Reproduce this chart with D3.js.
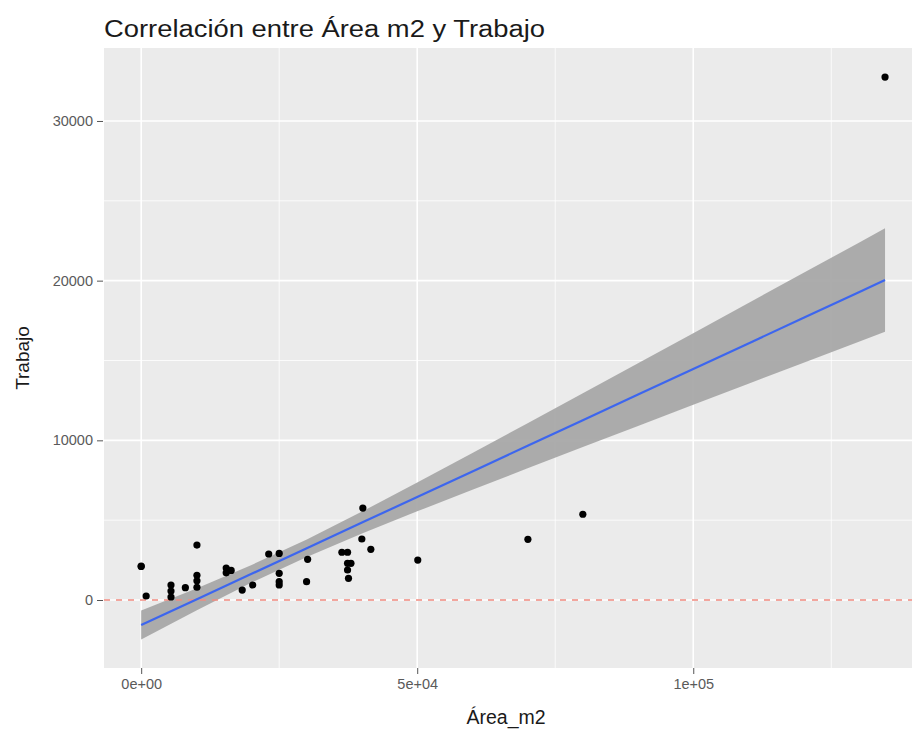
<!DOCTYPE html>
<html>
<head>
<meta charset="utf-8">
<script src="https://cdn.jsdelivr.net/npm/d3@7"></script>
<style>
  html, body { margin: 0; padding: 0; background: #ffffff; }
  svg { display: block; font-family: "Liberation Sans", Arial, sans-serif; }
</style>
</head>
<body>
<svg id="chart" width="912" height="730"></svg>
<script>
// Observations: surface (m2) and work
const areaM2 = [0, 0, 900, 5400, 5400, 5400, 8000, 10100, 10100, 10100, 10100,
  15400, 15400, 16300, 18300, 20200, 23100, 25000, 25000, 25000, 25000,
  30150, 29960, 36350, 37380, 37380, 38000, 37380, 37550, 39970, 41600,
  40150, 50100, 70050, 80000, 134740];
const trabajo = [2100, 2130, 250, 940, 565, 190, 770, 3440, 1550, 1200, 800,
  2000, 1700, 1850, 625, 940, 2880, 2920, 1670, 1150, 940,
  2550, 1150, 2990, 2990, 2300, 2300, 1880, 1360, 3820, 3175,
  5760, 2500, 3800, 5370, 32750];

// Linear fit with its 95% confidence band
const fitX     = [0, 10000, 20000, 30000, 40000, 50000, 60000, 70000, 80000, 90000, 100000, 110000, 120000, 130000, 134740];
const fitY     = [-1565, 38, 1642, 3245, 4848, 6452, 8055, 9658, 11261, 12865, 14468, 16071, 17675, 19278, 20038];
const fitLower = [-2466, -650, 1090, 2693, 4160, 5551, 6906, 8245, 9575, 10901, 12223, 13542, 14862, 16178, 16802];
const fitUpper = [-664, 726, 2194, 3797, 5536, 7353, 9204, 11071, 12947, 14829, 16713, 18600, 20488, 22378, 23274];

// Axis ticks
const xTicks = [0, 50000, 100000];
const xTickLabels = ["0e+00", "5e+04", "1e+05"];
const xMinor = [25000, 75000, 125000];
const yTicks = [0, 10000, 20000, 30000];
const yMinor = [5000, 15000, 25000];

const svg = d3.select("#chart");
const panel = { left: 104, top: 48, right: 922, bottom: 668 };

const x = d3.scaleLinear().domain([-6735, 141435]).range([panel.left, panel.right]);
const y = d3.scaleLinear().domain([-4258, 34570]).range([panel.bottom, panel.top]);

// Panel background
svg.append("rect")
  .attr("x", panel.left).attr("y", panel.top)
  .attr("width", panel.right - panel.left).attr("height", panel.bottom - panel.top)
  .attr("fill", "#ebebeb");

const grid = svg.append("g");
// Minor grid
yMinor.forEach(v => grid.append("line")
  .attr("x1", panel.left).attr("x2", panel.right)
  .attr("y1", y(v)).attr("y2", y(v))
  .attr("stroke", "#ffffff").attr("stroke-width", 0.8));
xMinor.forEach(v => grid.append("line")
  .attr("y1", panel.top).attr("y2", panel.bottom)
  .attr("x1", x(v)).attr("x2", x(v))
  .attr("stroke", "#ffffff").attr("stroke-width", 0.8));
// Major grid
yTicks.forEach(v => grid.append("line")
  .attr("x1", panel.left).attr("x2", panel.right)
  .attr("y1", y(v)).attr("y2", y(v))
  .attr("stroke", "#ffffff").attr("stroke-width", 1.6));
xTicks.forEach(v => grid.append("line")
  .attr("y1", panel.top).attr("y2", panel.bottom)
  .attr("x1", x(v)).attr("x2", x(v))
  .attr("stroke", "#ffffff").attr("stroke-width", 1.6));

// Confidence band
const band = fitX.map((d, i) => ({ x: d, lo: fitLower[i], hi: fitUpper[i] }));
svg.append("path")
  .datum(band)
  .attr("d", d3.area().x(d => x(d.x)).y0(d => y(d.lo)).y1(d => y(d.hi)))
  .attr("fill", "#a8a8a8")
  .attr("opacity", 0.95);

// Zero reference line
svg.append("line")
  .attr("x1", panel.left).attr("x2", panel.right)
  .attr("y1", y(0)).attr("y2", y(0))
  .attr("stroke", "#f08a80").attr("stroke-width", 1.3)
  .attr("stroke-dasharray", "6,6");

// Points
svg.append("g").selectAll("circle")
  .data(areaM2.map((d, i) => ({ a: d, t: trabajo[i] })))
  .join("circle")
  .attr("cx", d => x(d.a)).attr("cy", d => y(d.t))
  .attr("r", 3.6).attr("fill", "#000000");

// Fitted line
const fit = fitX.map((d, i) => ({ x: d, y: fitY[i] }));
svg.append("path")
  .datum(fit)
  .attr("d", d3.line().x(d => x(d.x)).y(d => y(d.y)))
  .attr("fill", "none")
  .attr("stroke", "#3d66ee").attr("stroke-width", 2.2);

// Axes
const yAxis = d3.axisLeft(y).tickValues(yTicks).tickSize(6).tickPadding(4).tickFormat(d3.format("d"));
const gy = svg.append("g").attr("transform", `translate(${panel.left - 1},0)`).call(yAxis);
gy.select(".domain").remove();
gy.selectAll(".tick line").attr("stroke", "#555555");
gy.selectAll(".tick text").attr("fill", "#5a5a5a").attr("font-size", 14.5)
  .attr("font-family", "Liberation Sans, Arial, sans-serif");

const xAxis = d3.axisBottom(x).tickValues(xTicks).tickSize(6).tickPadding(5)
  .tickFormat((d, i) => xTickLabels[i]);
const gx = svg.append("g").attr("transform", `translate(0,${panel.bottom})`).call(xAxis);
gx.select(".domain").remove();
gx.selectAll(".tick line").attr("stroke", "#555555");
gx.selectAll(".tick text").attr("fill", "#5a5a5a").attr("font-size", 14.5)
  .attr("font-family", "Liberation Sans, Arial, sans-serif");

// Titles
svg.append("text")
  .attr("x", 104).attr("y", 37)
  .attr("font-size", 23).attr("fill", "#1a1a1a")
  .attr("textLength", 441).attr("lengthAdjust", "spacingAndGlyphs")
  .text("Correlación entre Área m2 y Trabajo");

svg.append("text")
  .attr("x", 506).attr("y", 724)
  .attr("text-anchor", "middle")
  .attr("font-size", 19.5).attr("fill", "#1a1a1a")
  .text("Área_m2");

svg.append("text")
  .attr("transform", "translate(29,358) rotate(-90)")
  .attr("text-anchor", "middle")
  .attr("font-size", 19).attr("fill", "#1a1a1a")
  .text("Trabajo");
</script>
</body>
</html>
